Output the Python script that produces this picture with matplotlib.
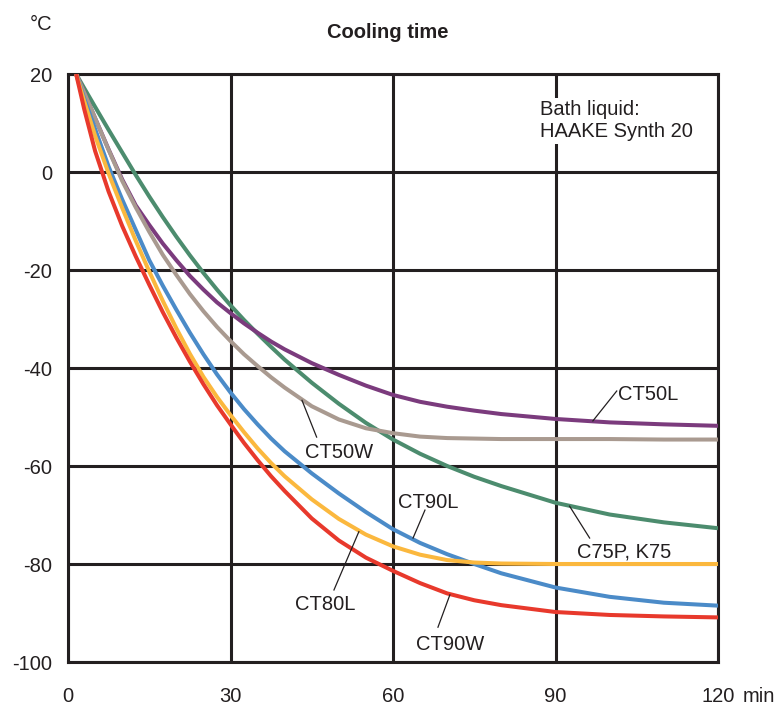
import matplotlib
matplotlib.use("Agg")
import matplotlib.pyplot as plt

plt.rcParams['font.family'] = ['Liberation Sans', 'DejaVu Sans']

# cooling curves (minutes, degC)
time_min = [1.5, 3, 5, 7.5, 10, 12.5, 15, 17.5, 20, 22.5, 25, 27.5, 30, 32.5, 35, 37.5, 40,
            45, 50, 55, 60, 65, 70, 75, 80, 90, 100, 110, 120]

ct50l = [20, 16.2, 11.0, 4.6, -1.5, -6.8, -10.8, -14.6, -18.0, -21.2, -24.0, -26.6, -28.8,
         -30.9, -32.8, -34.6, -36.2, -39.0, -41.4, -43.6, -45.5, -46.9, -47.9, -48.7, -49.4,
         -50.4, -51.1, -51.5, -51.8]
ct50w = [20, 16.2, 11.0, 4.5, -1.8, -7.2, -12.2, -16.9, -21.0, -24.9, -28.4, -31.6, -34.5,
         -37.2, -39.6, -41.9, -44.0, -47.8, -50.5, -52.3, -53.3, -54.0, -54.3, -54.4, -54.5,
         -54.5, -54.5, -54.6, -54.6]
c75p = [20, 17.1, 13.3, 8.6, 4.0, -0.6, -5.0, -9.2, -13.2, -17.0, -20.6, -24.0, -27.2,
        -30.2, -33.0, -35.7, -38.3, -43.0, -47.3, -51.2, -54.6, -57.5, -60.0, -62.2, -64.1,
        -67.5, -69.9, -71.5, -72.7]
ct90l = [20, 15.0, 8.8, 1.1, -5.6, -11.8, -18.0, -23.2, -28.1, -32.8, -37.2, -41.3, -45.0,
         -48.4, -51.5, -54.4, -57.0, -61.5, -65.6, -69.4, -72.9, -75.7, -78.0, -80.0, -81.9,
         -84.8, -86.7, -87.9, -88.5]
ct80l = [20, 14.4, 7.4, -0.3, -7.3, -14.0, -20.3, -26.3, -31.9, -37.1, -41.8, -45.9, -49.6,
         -53.1, -56.4, -59.4, -62.1, -66.8, -70.8, -74.0, -76.4, -78.1, -79.2, -79.7, -79.9,
         -80.0, -80.0, -80.0, -80.0]
ct90w = [20, 12.8, 4.3, -4.0, -11.0, -17.2, -23.0, -28.6, -33.8, -38.7, -43.3, -47.6, -51.5,
         -55.3, -58.8, -62.1, -65.1, -70.7, -75.2, -78.7, -81.4, -83.9, -86.0, -87.4, -88.4,
         -89.8, -90.4, -90.7, -90.9]

x_ticks = [0, 30, 60, 90, 120]
y_ticks = [-100, -80, -60, -40, -20, 0, 20]

# name, point on curve, end of leader line, text position (left, baseline)
labels = [
    ("CT50L", (96.9, -50.8), (101.3, -44.7), (101.5, -46.5)),
    ("C75P, K75", (92.6, -68.2), (96.3, -74.7), (93.9, -78.6)),
    ("CT90L", (63.7, -74.7), (65.9, -69.0), (60.9, -68.6)),
    ("CT90W", (70.5, -86.3), (68.3, -92.9), (64.3, -97.6)),
    ("CT50W", (43.2, -46.6), (45.9, -54.1), (43.7, -58.4)),
    ("CT80L", (53.7, -73.4), (49.1, -85.3), (41.9, -89.4)),
]

ink = '#231f20'

fig = plt.figure(figsize=(7.75, 7.08), dpi=100)
ax = fig.add_axes([68 / 775, 1 - 662 / 708, 650 / 775, 588 / 708])

series = [
    (c75p, '#4c8c6e'),
    (ct50l, '#7b3b7d'),
    (ct50w, '#a99a90'),
    (ct90l, '#4b8bc8'),
    (ct80l, '#fbb83e'),
    (ct90w, '#e8392c'),
]
for vals, col in series:
    ax.plot(time_min, vals, color=col, lw=2.9, solid_capstyle='butt',
            solid_joinstyle='round', zorder=3)

ax.set_xlim(0, 120)
ax.set_ylim(-100, 20)
ax.set_xticks(x_ticks)
ax.set_yticks(y_ticks)
ax.set_xticklabels([str(v) for v in x_ticks])
ax.set_yticklabels([str(v) for v in y_ticks])
ax.grid(True, color=ink, lw=2.2)
for s in ax.spines.values():
    s.set_color(ink)
    s.set_linewidth(2.2)
ax.tick_params(axis='both', length=0, labelsize=14.5, labelcolor=ink)
ax.tick_params(axis='x', pad=18)
ax.tick_params(axis='y', pad=11.5)

for name, p_curve, p_end, p_text in labels:
    ax.plot([p_curve[0], p_end[0]], [p_curve[1], p_end[1]], color=ink, lw=0.9, zorder=4)
    ax.text(p_text[0], p_text[1], name, ha='left', va='baseline', fontsize=14.5, color=ink, zorder=5)

ax.text(87.1, 14.6, "Bath liquid:\nHAAKE Synth 20", ha='left', va='top', fontsize=14.5,
        color=ink, linespacing=1.2, zorder=5,
        bbox=dict(facecolor='white', edgecolor='none', pad=2))

ax.annotate("min", xy=(120, -100), xytext=(18, -18), textcoords='offset points',
            ha='left', va='top', fontsize=14.5, color=ink, annotation_clip=False)

fig.text(30 / 775, 1 - 25 / 708, "°C", ha='left', va='center', fontsize=14.5, color=ink)
fig.text(387.5 / 775, 1 - 38 / 708, "Cooling time", ha='center', va='baseline',
         fontsize=14.5, fontweight='bold', color=ink)

fig.savefig("out.png", dpi=100)
